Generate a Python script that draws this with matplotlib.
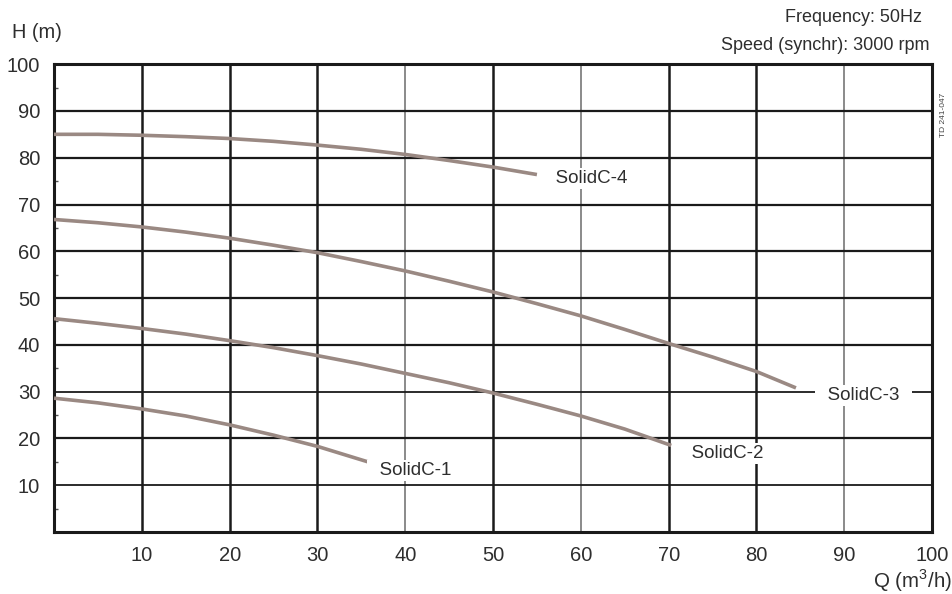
import matplotlib.pyplot as plt
from matplotlib.ticker import MultipleLocator

# pump curves: Q (m3/h) -> H (m)
q4 = [0, 5, 10, 15, 20, 25, 30, 35, 40, 45, 50, 55]
h4 = [85.0, 85.0, 84.8, 84.5, 84.1, 83.5, 82.7, 81.8, 80.7, 79.4, 78.0, 76.4]

q3 = [0, 5, 10, 15, 20, 25, 30, 35, 40, 45, 50, 55, 60, 65, 70, 75, 80, 84.5]
h3 = [66.8, 66.1, 65.2, 64.1, 62.8, 61.3, 59.7, 57.8, 55.8, 53.6, 51.3, 48.8,
      46.2, 43.3, 40.3, 37.4, 34.3, 30.8]

q2 = [0, 5, 10, 15, 20, 25, 30, 35, 40, 45, 50, 55, 60, 65, 70.3]
h2 = [45.6, 44.6, 43.5, 42.3, 40.9, 39.4, 37.7, 35.9, 33.9, 31.9, 29.7, 27.3,
      24.8, 22.0, 18.5]

q1 = [0, 5, 10, 15, 20, 25, 30, 36.6]
h1 = [28.6, 27.6, 26.3, 24.8, 22.9, 20.7, 18.3, 14.5]

names = ["SolidC-1", "SolidC-2", "SolidC-3", "SolidC-4"]
label_pos = [(41.2, 13.1), (76.7, 16.8), (92.2, 29.1), (61.2, 75.5)]

ticks = list(range(10, 101, 10))
thin_x = [40, 60, 90]

plt.rcParams['font.family'] = ['Liberation Sans', 'DejaVu Sans']
plt.rcParams['mathtext.fontset'] = 'custom'
plt.rcParams['mathtext.rm'] = 'Liberation Sans'
TXT = '#2e2e2e'
CURVE = '#9a8983'

fig = plt.figure(figsize=(9.53, 5.94), dpi=100)
ax = fig.add_axes([0.0567, 0.1044, 0.9213, 0.7876])
ax.set_xlim(0, 100)
ax.set_ylim(0, 100)

# grid
for x in ticks[:-1]:
    if x in thin_x:
        ax.axvline(x, color='#777777', lw=1.2, zorder=1)
    else:
        ax.axvline(x, color='#1a1a1a', lw=1.8, zorder=1)
for y in ticks[:-1]:
    ax.axhline(y, color='#1a1a1a', lw=1.6 if y not in (10, 30) else 1.3, zorder=1)

for s in ax.spines.values():
    s.set_linewidth(2.2)
    s.set_color('#1a1a1a')

for q, h in [(q1, h1), (q2, h2), (q3, h3), (q4, h4)]:
    ax.plot(q, h, color=CURVE, lw=2.6, solid_capstyle='butt', zorder=3)

for name, (x, y) in zip(names, label_pos):
    ax.text(x, y, "  " + name + "  ", fontsize=13.5, color=TXT, ha='center', va='center',
            zorder=4, bbox=dict(facecolor='white', edgecolor='none', pad=1.5))

ax.set_xticks(ticks)
ax.set_yticks(ticks)
ax.yaxis.set_minor_locator(MultipleLocator(5))
ax.tick_params(axis='both', which='major', length=0, labelsize=14.5, labelcolor=TXT, pad=10)
ax.tick_params(axis='x', which='major', pad=10)
ax.tick_params(axis='y', which='minor', direction='in', length=3, width=1, color='#555555')

fig.text(12 / 953, 1 - 32 / 594, "H (m)", fontsize=14.4, color=TXT, ha='left', va='center')
fig.text(952 / 953, 1 - 581 / 594, "Q (m$^3$/h)", fontsize=14.8, color=TXT, ha='right', va='center')
fig.text(922 / 953, 1 - 18 / 594, "Frequency: 50Hz", fontsize=13, color=TXT, ha='right', va='center')
fig.text(930 / 953, 1 - 46 / 594, "Speed (synchr): 3000 rpm", fontsize=13, color=TXT,
         ha='right', va='center')
fig.text(944 / 953, 1 - 115 / 594, "TD 241-047", fontsize=6, color='#444444', rotation=90,
         ha='center', va='center')

fig.savefig("out.png", dpi=100)
